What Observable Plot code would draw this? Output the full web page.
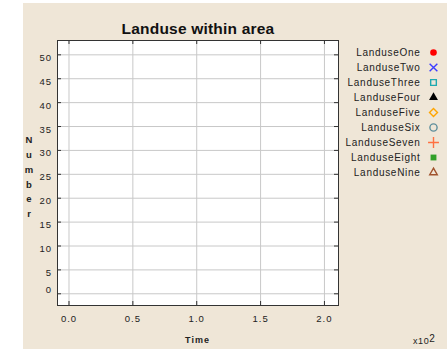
<!DOCTYPE html>
<html><head><meta charset="utf-8">
<script src="https://cdn.jsdelivr.net/npm/d3@7"></script>
<script src="https://cdn.jsdelivr.net/npm/@observablehq/plot@0.6"></script>
<style>
html,body{margin:0;padding:0;background:#fff;}
#wrap{position:relative;width:447px;height:349px;overflow:hidden;font-family:"Liberation Sans",Arial,sans-serif;}
#bg{position:absolute;left:23px;top:3px;width:424px;height:346px;background:#EFE6D7;}
#main{position:absolute;left:0;top:0;}
#legend{position:absolute;left:340px;top:44px;}
#mult{position:absolute;left:413px;top:336px;font-size:9px;letter-spacing:0.6px;color:#222;line-height:10px;white-space:nowrap;}
#mult sup{font-size:10px;position:relative;top:-2px;vertical-align:baseline;}
</style></head>
<body>
<div id="wrap"><div id="bg"></div><div id="main"></div><div id="legend"></div><div id="mult">x10<sup>2</sup></div></div>
<script>
// ---- data ----
const categories = ["LanduseOne","LanduseTwo","LanduseThree","LanduseFour","LanduseFive","LanduseSix","LanduseSeven","LanduseEight","LanduseNine"];
const symbols = ["circle","times","square2","triangle","diamond2","circle","plus","square","triangle2"];
const filled = [true,false,false,true,false,false,false,true,false];
const colors = ["#ff0000","#3c3cff","#1eaab0","#000000","#ffa500","#5f8f9c","#ff7040","#32a028","#a0522d"];
const xTicks = [0,50,100,150,200];
const yTicks = [0,5,10,15,20,25,30,35,40,45,50];
const title = "Landuse within area";
const xLabel = "Time";
const yLabel = "Number";
// the series are empty in the reference chart
const seriesValues = {LanduseOne:[],LanduseTwo:[],LanduseThree:[],LanduseFour:[],LanduseFive:[],LanduseSix:[],LanduseSeven:[],LanduseEight:[],LanduseNine:[]};

const points = categories.flatMap(c => seriesValues[c].map(([t,n]) => ({name:c,t,n})));
const isFilled = c => filled[categories.indexOf(c)];

const W=447,H=349,mL=57,mR=109,mT=40,mB=44;
const fw=W-mL-mR, fh=H-mT-mB, tk=4;

const main = Plot.plot({
  width:W,height:H,marginLeft:mL,marginRight:mR,marginTop:mT,marginBottom:mB,
  style:{background:"transparent",overflow:"visible",fontFamily:"Liberation Sans, Arial, sans-serif",fontSize:"9.5px",letterSpacing:"1px",color:"#222"},
  x:{domain:[-9,211],axis:null},
  y:{domain:[-2.45,53],axis:null},
  symbol:{domain:categories,range:symbols},
  color:{domain:categories,range:colors},
  marks:[
    Plot.frame({fill:"white",stroke:null}),
    Plot.gridX(xTicks,{stroke:"#c8c8c8",strokeOpacity:1}),
    Plot.gridY(yTicks,{stroke:"#c8c8c8",strokeOpacity:1}),
    Plot.tickX(xTicks,{x:d=>d,insetTop:fh-tk,stroke:"#333"}),
    Plot.tickX(xTicks,{x:d=>d,insetBottom:fh-tk,stroke:"#333"}),
    Plot.tickY(yTicks,{y:d=>d,insetRight:fw-tk,stroke:"#333"}),
    Plot.tickY(yTicks,{y:d=>d,insetLeft:fw-tk,stroke:"#333"}),
    Plot.axisX(xTicks,{tickSize:0,tickPadding:10,tickFormat:d=>(d/100).toFixed(1),label:null,fill:"#222"}),
    Plot.axisY(yTicks.filter(d=>d!==0),{tickSize:0,tickPadding:5.5,label:null,dy:3,fill:"#222"}),
    Plot.axisY(yTicks.filter(d=>d===0),{tickSize:0,tickPadding:5.5,label:null,dy:-4,fill:"#222"}),
    Plot.dot(points.filter(p=>isFilled(p.name)),{x:"t",y:"n",symbol:"name",fill:"name",r:3.5}),
    Plot.dot(points.filter(p=>!isFilled(p.name)),{x:"t",y:"n",symbol:"name",stroke:"name",r:3.5}),
    Plot.frame({stroke:"#333"}),
    Plot.text([title],{frameAnchor:"top",lineAnchor:"middle",dy:-11,fontSize:15.5,fontWeight:"bold",fill:"#111"}),
    Plot.text([xLabel],{frameAnchor:"bottom",lineAnchor:"middle",dy:35,dx:-0.5,fontSize:9,fontWeight:"bold",fill:"#222"}),
    Plot.text([yLabel],{text:d=>d.split("").join("\n"),frameAnchor:"left",lineAnchor:"middle",textAnchor:"middle",dx:-28,dy:2.5,fontSize:9.5,lineHeight:14.8/9.5,fontWeight:"bold",fill:"#222"})
  ]
});
main.querySelectorAll("text").forEach(t=>{ if(t.textContent===title) t.style.letterSpacing="0.2px"; });
document.getElementById("main").appendChild(main);

const legend = Plot.plot({
  width:107,height:136,marginTop:8,marginBottom:8,marginLeft:0,marginRight:0,
  style:{background:"transparent",overflow:"visible",fontFamily:"Liberation Sans, Arial, sans-serif",fontSize:"10px",letterSpacing:"0.7px",color:"#222"},
  y:{type:"point",domain:categories,axis:null,padding:0},
  symbol:{domain:categories,range:symbols},
  color:{domain:categories,range:colors},
  marks:[
    Plot.text(categories,{y:d=>d,text:d=>d,frameAnchor:"right",textAnchor:"end",dx:-27,fill:"#222"}),
    Plot.dot(categories.filter(isFilled),{y:d=>d,frameAnchor:"right",dx:-14,symbol:d=>d,fill:d=>d,r:3.3}),
    Plot.dot(categories.filter(c=>!isFilled(c)),{y:d=>d,frameAnchor:"right",dx:-14,symbol:d=>d,stroke:d=>d,r:3.6,strokeWidth:1.4})
  ]
});
document.getElementById("legend").appendChild(legend);
</script>
</body></html>
